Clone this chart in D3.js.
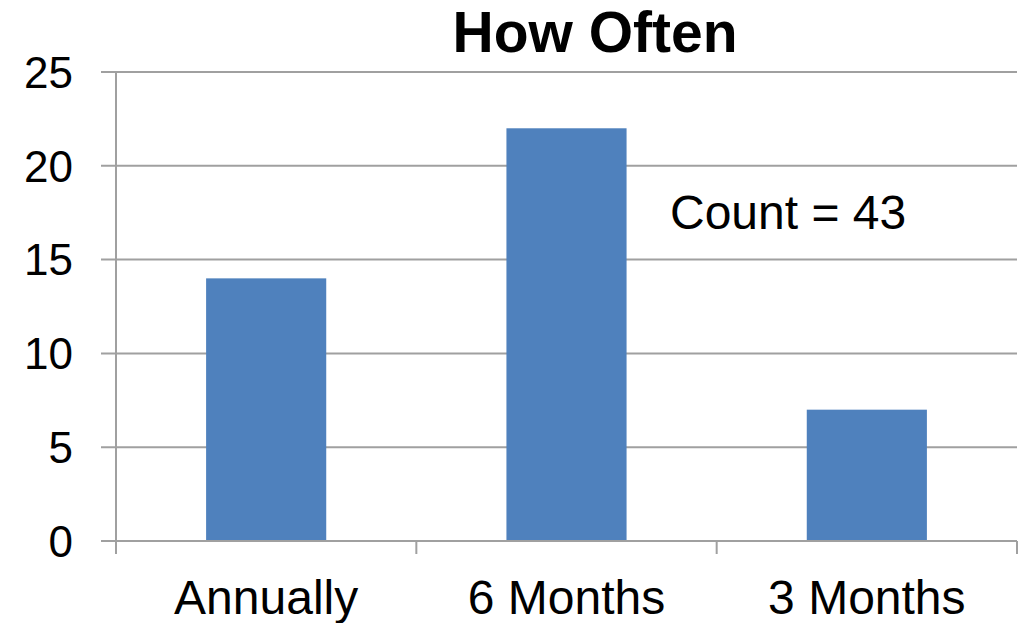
<!DOCTYPE html>
<html>
<head>
<meta charset="utf-8">
<script src="https://cdn.jsdelivr.net/npm/d3@7"></script>
<style>
  body { margin: 0; background: #fff; }
  svg { font-family: "Liberation Sans", Arial, sans-serif; }
</style>
</head>
<body>
<div id="chart"></div>
<script>
// Data
const categories = ["Annually", "6 Months", "3 Months"];
const counts = [14, 22, 7];
const yTicks = [0, 5, 10, 15, 20, 25];
const title = "How Often";
const note = "Count = 43";

const width = 1025;
const height = 623;
const margin = { top: 72, right: 8, bottom: 82, left: 116 };

const svg = d3.select("#chart")
    .append("svg")
    .attr("width", width)
    .attr("height", height);

const x = d3.scaleBand()
    .domain(categories)
    .range([margin.left, width - margin.right])
    .padding(0);

const y = d3.scaleLinear()
    .domain([0, 25])
    .range([height - margin.bottom, margin.top]);

// gridlines + y tick marks (extend a bit left of the axis)
svg.append("g")
    .selectAll("line")
    .data(yTicks)
    .join("line")
    .attr("x1", margin.left - 15)
    .attr("x2", width - margin.right)
    .attr("y1", d => y(d))
    .attr("y2", d => y(d))
    .attr("stroke", "#a0a0a0")
    .attr("stroke-width", 2);

// y tick labels
svg.append("g")
    .selectAll("text")
    .data(yTicks)
    .join("text")
    .attr("x", margin.left - 43)
    .attr("y", d => y(d))
    .attr("dy", "0.36em")
    .attr("text-anchor", "end")
    .attr("font-size", 44)
    .text(d => d);

// bars
const barW = x.bandwidth() * 0.4;
svg.append("g")
    .selectAll("rect")
    .data(counts)
    .join("rect")
    .attr("x", (d, i) => x(categories[i]) + (x.bandwidth() - barW) / 2)
    .attr("y", d => y(d))
    .attr("width", barW)
    .attr("height", d => y(0) - y(d))
    .attr("fill", "#4f81bd");

// y axis line
svg.append("line")
    .attr("x1", margin.left).attr("x2", margin.left)
    .attr("y1", y(25)).attr("y2", y(0) + 13)
    .attr("stroke", "#a0a0a0")
    .attr("stroke-width", 2);

// x axis line
svg.append("line")
    .attr("x1", margin.left).attr("x2", width - margin.right)
    .attr("y1", y(0)).attr("y2", y(0))
    .attr("stroke", "#a0a0a0")
    .attr("stroke-width", 2);

// x tick marks at category boundaries
const bounds = categories.map(c => x(c) + x.bandwidth());
svg.append("g")
    .selectAll("line")
    .data(bounds)
    .join("line")
    .attr("x1", d => d).attr("x2", d => d)
    .attr("y1", y(0)).attr("y2", y(0) + 13)
    .attr("stroke", "#a0a0a0")
    .attr("stroke-width", 2);

// category labels
svg.append("g")
    .selectAll("text")
    .data(categories)
    .join("text")
    .attr("x", d => x(d) + x.bandwidth() / 2)
    .attr("y", 614)
    .attr("text-anchor", "middle")
    .attr("font-size", 48)
    .text(d => d);

// title
svg.append("text")
    .attr("x", 595)
    .attr("y", 52)
    .attr("text-anchor", "middle")
    .attr("font-size", 57)
    .attr("font-weight", "bold")
    .text(title);

// count note
svg.append("text")
    .attr("x", 670)
    .attr("y", 229)
    .attr("font-size", 48)
    .text(note);
</script>
</body>
</html>
